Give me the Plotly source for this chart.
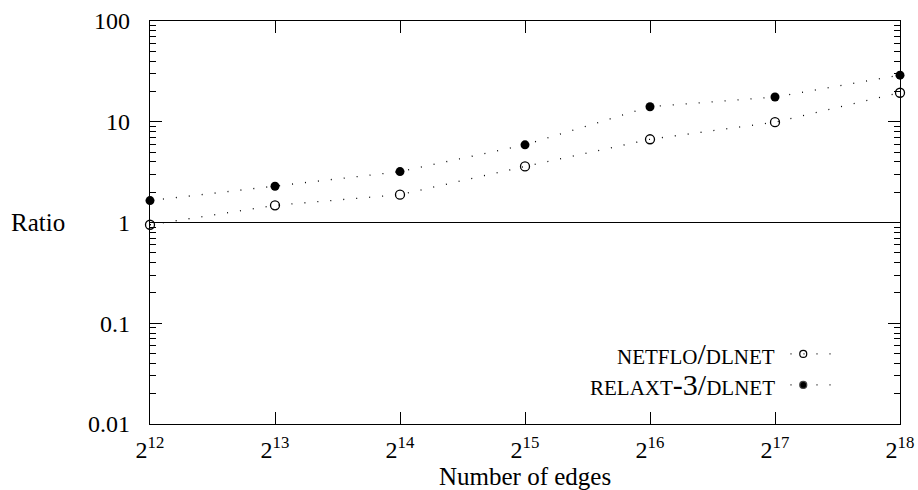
import math
import plotly.graph_objects as go

# Problem sizes (number of edges) and running-time ratios
edges = [2**12, 2**13, 2**14, 2**15, 2**16, 2**17, 2**18]
netflo_ratio = [0.95, 1.48, 1.89, 3.6, 6.7, 9.9, 19.4]
relaxt_ratio = [1.65, 2.29, 3.2, 5.9, 14.1, 17.6, 29.0]

x_tick_vals = [2**k for k in range(12, 19)]
x_tick_text = [f"2<sup>{k}</sup>" for k in range(12, 19)]
y_tick_vals = [0.01, 0.1, 1, 10, 100]
y_tick_text = ["0.01", "0.1", "1", "10", "100"]
y_minor_vals = [m * 10**e for e in range(-2, 2) for m in range(2, 10)]

legend_labels = ["netflo/dlnet", "relaxt-3/dlnet"]

FONT = "Liberation Serif"
DOTS = "1px,12px"

fig = go.Figure()

# reference line at ratio 1
fig.add_trace(go.Scatter(
    x=[edges[0], edges[-1]], y=[1, 1], mode="lines",
    line=dict(color="black", width=1.2), showlegend=False, hoverinfo="skip",
))

fig.add_trace(go.Scatter(
    x=edges, y=netflo_ratio, mode="lines+markers", name=legend_labels[0],
    line=dict(color="black", width=1.3, dash=DOTS),
    marker=dict(symbol="circle-open", size=9, color="black", line=dict(width=1.3)),
    showlegend=False, cliponaxis=False,
))
fig.add_trace(go.Scatter(
    x=edges, y=relaxt_ratio, mode="lines+markers", name=legend_labels[1],
    line=dict(color="black", width=1.3, dash=DOTS),
    marker=dict(symbol="circle", size=9, color="black"),
    showlegend=False, cliponaxis=False,
))

# legend key samples on a hidden unit overlay axis
key_x = [0.854, 0.914]
key_mid = 0.871
key_rows = [0.174, 0.097]
key_symbols = ["circle-open", "circle"]
for row, sym in zip(key_rows, key_symbols):
    fig.add_trace(go.Scatter(
        x=key_x, y=[row, row], mode="lines", xaxis="x2", yaxis="y2",
        line=dict(color="black", width=1.3, dash=DOTS),
        showlegend=False, hoverinfo="skip",
    ))
    fig.add_trace(go.Scatter(
        x=[key_mid], y=[row], mode="markers", xaxis="x2", yaxis="y2",
        marker=dict(symbol=sym, size=7, color="black", line=dict(width=1.2)),
        showlegend=False, hoverinfo="skip",
    ))

annotations = []
for row, label in zip(key_rows, legend_labels):
    annotations.append(dict(
        text=label, xref="paper", yref="paper", x=0.836, y=row,
        xanchor="right", yanchor="middle", showarrow=False,
        font=dict(family=FONT, size=30, color="black", variant="small-caps"),
    ))
annotations.append(dict(
    text="Ratio", xref="paper", yref="y", x=-0.188, y=0,
    xanchor="left", yanchor="middle", showarrow=False,
    font=dict(family=FONT, size=25, color="black"),
))
annotations.append(dict(
    text="Number of edges", xref="paper", yref="paper", x=0.5, y=-0.131,
    xanchor="center", yanchor="middle", showarrow=False,
    font=dict(family=FONT, size=25, color="black"),
))

axis_common = dict(
    showline=True, linecolor="black", linewidth=1.2, mirror="ticks",
    ticks="inside", tickcolor="black", tickwidth=1, showgrid=False,
    zeroline=False, automargin=False,
    tickfont=dict(family=FONT, size=24, color="black"),
)

x_lo = math.log10(edges[0]) - 1e-6
x_hi = math.log10(edges[-1]) + 1e-6

fig.update_layout(
    width=918, height=490,
    margin=dict(l=150, r=18, t=21, b=66),
    paper_bgcolor="white", plot_bgcolor="white",
    xaxis=dict(
        type="log", range=[x_lo, x_hi],
        tickmode="array", tickvals=x_tick_vals, ticktext=x_tick_text,
        ticklen=12, ticklabelstandoff=4, **axis_common,
    ),
    yaxis=dict(
        type="log", range=[-2, 2],
        tickmode="array", tickvals=y_tick_vals, ticktext=y_tick_text,
        ticklen=12, ticklabelstandoff=14,
        minor=dict(ticks="inside", ticklen=6, tickcolor="black", tickwidth=1,
                   tickmode="array", tickvals=y_minor_vals, showgrid=False),
        **axis_common,
    ),
    xaxis2=dict(overlaying="x", range=[0, 1], visible=False),
    yaxis2=dict(overlaying="y", range=[0, 1], visible=False),
    annotations=annotations,
    showlegend=False,
)

fig.write_html("out.html")
